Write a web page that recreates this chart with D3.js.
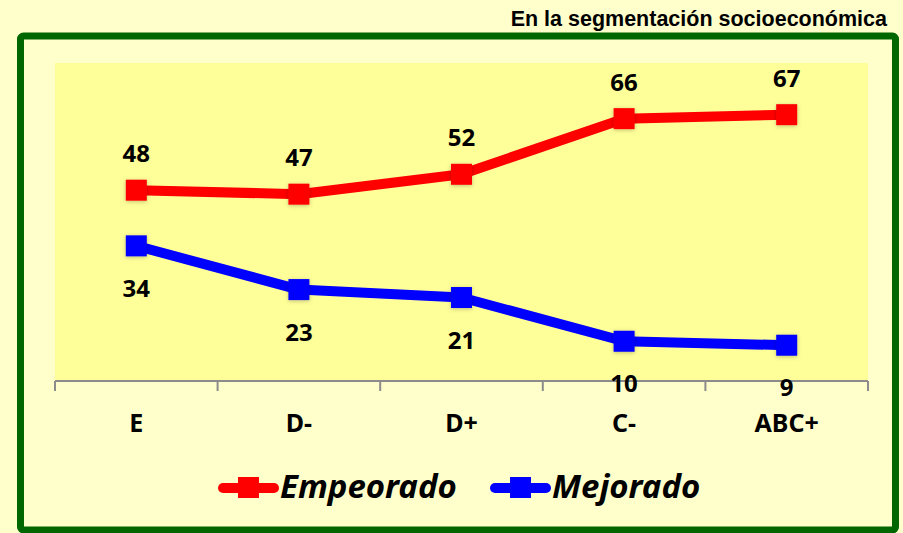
<!DOCTYPE html>
<meta charset="utf-8">
<script src="https://d3js.org/d3.v7.min.js"></script>
<style>
  body { margin: 0; background: #FFFFCC; }
  text { font-family: "Noto Sans", "Open Sans", sans-serif; }
</style>
<div id="chart"></div>
<script>
// data
var categories = ["E", "D-", "D+", "C-", "ABC+"];
var empeorado = [48, 47, 52, 66, 67];
var mejorado = [34, 23, 21, 10, 9];
var seriesNames = ["Empeorado", "Mejorado"];
var seriesColors = ["#FF0000", "#0000FF"];

var W = 903, H = 533;
var margin = {top: 63, right: 35, bottom: 152, left: 55},
    width = W - margin.left - margin.right,
    height = H - margin.top - margin.bottom;

var svg = d3.select("#chart").append("svg")
    .attr("width", W)
    .attr("height", H);

var defs = svg.append("defs");
var f = defs.append("filter").attr("id", "shadow")
    .attr("x", "-30%").attr("y", "-30%").attr("width", "160%").attr("height", "160%");
f.append("feDropShadow").attr("dx", 0).attr("dy", 1).attr("stdDeviation", 2)
    .attr("flood-color", "#000").attr("flood-opacity", 0.25);

svg.append("rect").attr("width", W).attr("height", H).attr("fill", "#FFFFCC");

// title
svg.append("text")
    .attr("x", 887).attr("y", 26)
    .attr("text-anchor", "end")
    .style("font-family", "'Liberation Sans', Arial, sans-serif")
    .style("font-size", "21.5px")
    .style("font-weight", "bold")
    .text("En la segmentación socioeconómica");

// green frame
svg.append("rect")
    .attr("x", 20.5).attr("y", 36)
    .attr("width", 875).attr("height", 494)
    .attr("rx", 3)
    .attr("fill", "none")
    .attr("stroke", "#006600")
    .attr("stroke-width", 7);

var g = svg.append("g")
    .attr("transform", "translate(" + margin.left + "," + margin.top + ")");

g.append("rect")
    .attr("width", width).attr("height", height)
    .attr("fill", "#FFFF99");

var x = d3.scaleBand().domain(categories).range([0, width]).padding(0);
var y = d3.scaleLinear().domain([0, 80]).range([height, 0]);

// x axis
var xAxis = g.append("g")
    .attr("transform", "translate(0," + height + ")");
xAxis.append("line")
    .attr("x1", 0).attr("x2", width)
    .attr("stroke", "#8c8c8c").attr("stroke-width", 2);
xAxis.selectAll(".tick")
    .data(d3.range(categories.length + 1))
    .enter().append("line")
    .attr("x1", function(i) { return i * x.step(); })
    .attr("x2", function(i) { return i * x.step(); })
    .attr("y1", 0).attr("y2", 10)
    .attr("stroke", "#8c8c8c").attr("stroke-width", 2);
xAxis.selectAll(".lbl")
    .data(categories)
    .enter().append("text")
    .attr("x", function(d) { return x(d) + x.bandwidth() / 2; })
    .attr("y", 51)
    .attr("text-anchor", "middle")
    .style("font-size", "25px")
    .style("font-weight", "bold")
    .text(function(d) { return d; });

var line = d3.line()
    .x(function(d, i) { return x(categories[i]) + x.bandwidth() / 2; })
    .y(function(d) { return y(d); });

var allSeries = [empeorado, mejorado];
allSeries.forEach(function(vals, si) {
  var col = seriesColors[si];
  g.append("path")
    .datum(vals)
    .attr("d", line)
    .attr("fill", "none")
    .attr("stroke", col)
    .attr("stroke-width", 10)
    .attr("stroke-linejoin", "round");

  g.selectAll(".m" + si)
    .data(vals)
    .enter().append("rect")
    .attr("x", function(d, i) { return x(categories[i]) + x.bandwidth() / 2 - 10.5; })
    .attr("y", function(d) { return y(d) - 10.5; })
    .attr("width", 21).attr("height", 21)
    .attr("fill", col)
    .attr("filter", "url(#shadow)");

  g.selectAll(".v" + si)
    .data(vals)
    .enter().append("text")
    .attr("x", function(d, i) { return x(categories[i]) + x.bandwidth() / 2; })
    .attr("y", function(d) { return si === 0 ? y(d) - 28 : y(d) + 51; })
    .attr("text-anchor", "middle")
    .style("font-size", "24px")
    .style("font-weight", "bold")
    .text(function(d) { return d; });
});

// legend
var legendX = [218, 490];
seriesNames.forEach(function(name, i) {
  var lg = svg.append("g").attr("transform", "translate(" + legendX[i] + ",488)");
  lg.append("line")
    .attr("x1", 5).attr("x2", 56)
    .attr("stroke", seriesColors[i])
    .attr("stroke-width", 10)
    .attr("stroke-linecap", "round");
  lg.append("rect")
    .attr("x", 20).attr("y", -11)
    .attr("width", 21).attr("height", 21)
    .attr("fill", seriesColors[i]);
  lg.append("text")
    .attr("x", 62).attr("y", 10)
    .style("font-size", "33px")
    .style("font-weight", "bold")
    .style("font-style", "italic")
    .text(name);
});
</script>
